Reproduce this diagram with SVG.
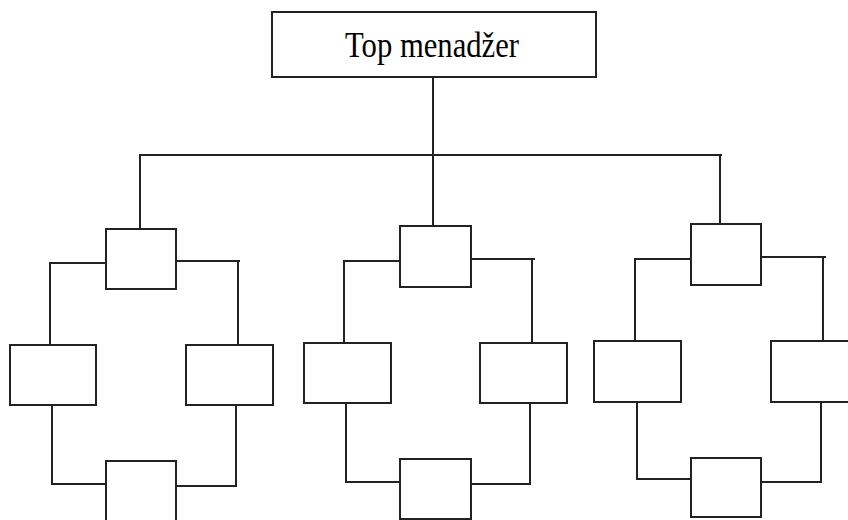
<svg xmlns="http://www.w3.org/2000/svg" width="848" height="520" viewBox="0 0 848 520">
<style>
.box{fill:#fff;stroke:#222;stroke-width:2}
.c{fill:none;stroke:#222;stroke-width:2}
.t{font-family:"Liberation Serif",serif;font-size:35px;fill:#000}
</style>
<rect width="848" height="520" fill="#fff"/>
<g id="connectors">
<path class="c" d="M433,77 V228 M140,229 V155 H722 M720,155 V224"/>
<path class="c" d="M106,263 H50 V345 M176,261 H240 M238,261 V345 M52,405 V484 H106 M236,405 V486 H176"/>
<path class="c" d="M400,261 H344 V343 M471,259 H535 M532,259 V343 M346,403 V482 H400 M530,403 V484 H471"/>
<path class="c" d="M691,259 H635 V341 M761,257 H826 M823,257 V341 M637,402 V479 H691 M821,402 V482 H761"/>
</g>
<g id="top"><rect class="box" x="272" y="12" width="324" height="65"/><text class="t" x="345" y="57" textLength="174" lengthAdjust="spacingAndGlyphs">Top menadžer</text></g>
<g id="g1-top"><rect class="box" x="106" y="229" width="70" height="60"/></g>
<g id="g1-left"><rect class="box" x="10" y="345" width="86" height="60"/></g>
<g id="g1-right"><rect class="box" x="186" y="345" width="87" height="60"/></g>
<g id="g1-bottom"><rect class="box" x="106" y="461" width="70" height="70"/></g>
<g id="g2-top"><rect class="box" x="400" y="226" width="71" height="61"/></g>
<g id="g2-left"><rect class="box" x="304" y="343" width="87" height="60"/></g>
<g id="g2-right"><rect class="box" x="480" y="343" width="87" height="60"/></g>
<g id="g2-bottom"><rect class="box" x="400" y="459" width="71" height="60"/></g>
<g id="g3-top"><rect class="box" x="691" y="224" width="70" height="61"/></g>
<g id="g3-left"><rect class="box" x="594" y="341" width="87" height="61"/></g>
<g id="g3-right"><rect class="box" x="771" y="341" width="90" height="61"/></g>
<g id="g3-bottom"><rect class="box" x="691" y="458" width="70" height="59"/></g>
</svg>
